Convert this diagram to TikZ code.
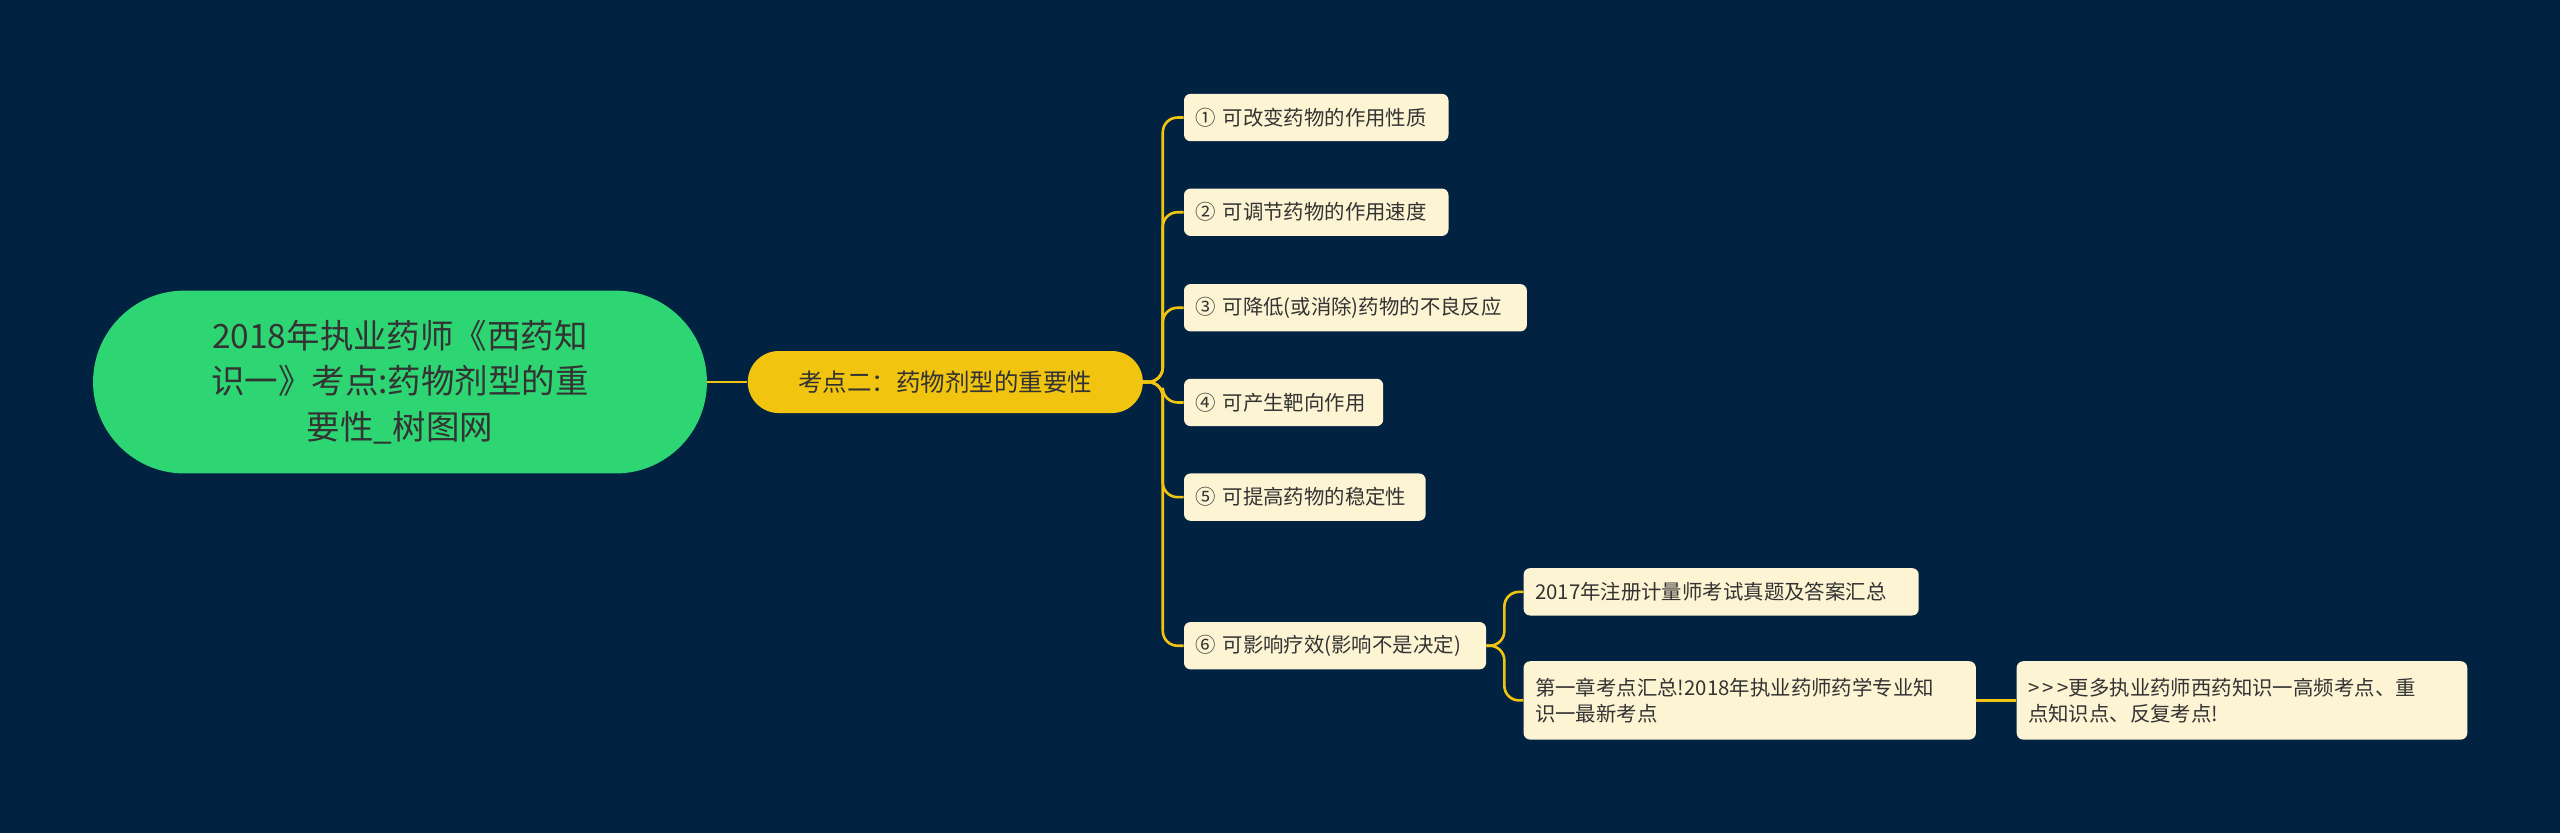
\documentclass[tikz,border=0pt]{standalone}
\usepackage{fontspec}
\setmainfont{Noto Sans CJK SC}
\definecolor{bg}{HTML}{022241}
\definecolor{gr}{HTML}{2ED573}
\definecolor{yl}{HTML}{F1C40F}
\definecolor{cr}{HTML}{FDF4D3}
\definecolor{tx}{HTML}{333333}
\begin{document}
\begin{tikzpicture}[x=1pt,y=-1pt,
 leaf/.style={fill=cr,rounded corners=4pt,anchor=west,inner xsep=7pt,minimum height=29pt,font=\fontsize{12.5}{16}\selectfont,text=tx,align=left,text width=#1-14pt},
 con/.style={draw=yl,line width=1.6pt,rounded corners=9pt}]
\fill[bg] (0,0) rectangle (1568,510);
\useasboundingbox (0,0) rectangle (1568,510);
\node[fill=gr,rounded corners=56pt,minimum width=376pt,minimum height=112pt,align=center,text=tx,font=\fontsize{20.5}{28}\selectfont] (root) at (245,234) {2018年执业药师《西药知\\识一》考点:药物剂型的重\\要性\_树图网};
\node[fill=yl,rounded corners=19pt,minimum width=242pt,minimum height=38pt,text=tx,font=\fontsize{15}{18}\selectfont] (k2) at (579,234) {考点二：药物剂型的重要性};
\node[leaf=162pt] (a1) at (725,72) {① 可改变药物的作用性质};
\node[leaf=162pt] (a2) at (725,130) {② 可调节药物的作用速度};
\node[leaf=210pt] (a3) at (725,188.5) {③ 可降低(或消除)药物的不良反应};
\node[leaf=122pt] (a4) at (725,246.5) {④ 可产生靶向作用};
\node[leaf=148pt] (a5) at (725,304.5) {⑤ 可提高药物的稳定性};
\node[leaf=185pt] (a6) at (725,395.5) {⑥ 可影响疗效(影响不是决定)};
\node[leaf=242pt] (b1) at (933,362.5) {2017年注册计量师考试真题及答案汇总};
\node[leaf=277pt,minimum height=48pt] (b2) at (933,429) {第一章考点汇总!2018年执业药师药学专业知\\识一最新考点};
\node[leaf=276pt,minimum height=48pt] (c1) at (1235,429) {{>}\,{>}\,{>}更多执业药师西药知识一高频考点、重\\点知识点、反复考点!};
\draw[con] (root.east) -- (k2.west);
\foreach \n in {a1,a2,a3,a4,a5,a6} \draw[con] (k2.east) -- ++(12,0) |- (\n.west);
\foreach \n in {b1,b2} \draw[con] (a6.east) -- ++(11,0) |- (\n.west);
\draw[con] (b2.east) -- (c1.west);
\end{tikzpicture}
\end{document}
